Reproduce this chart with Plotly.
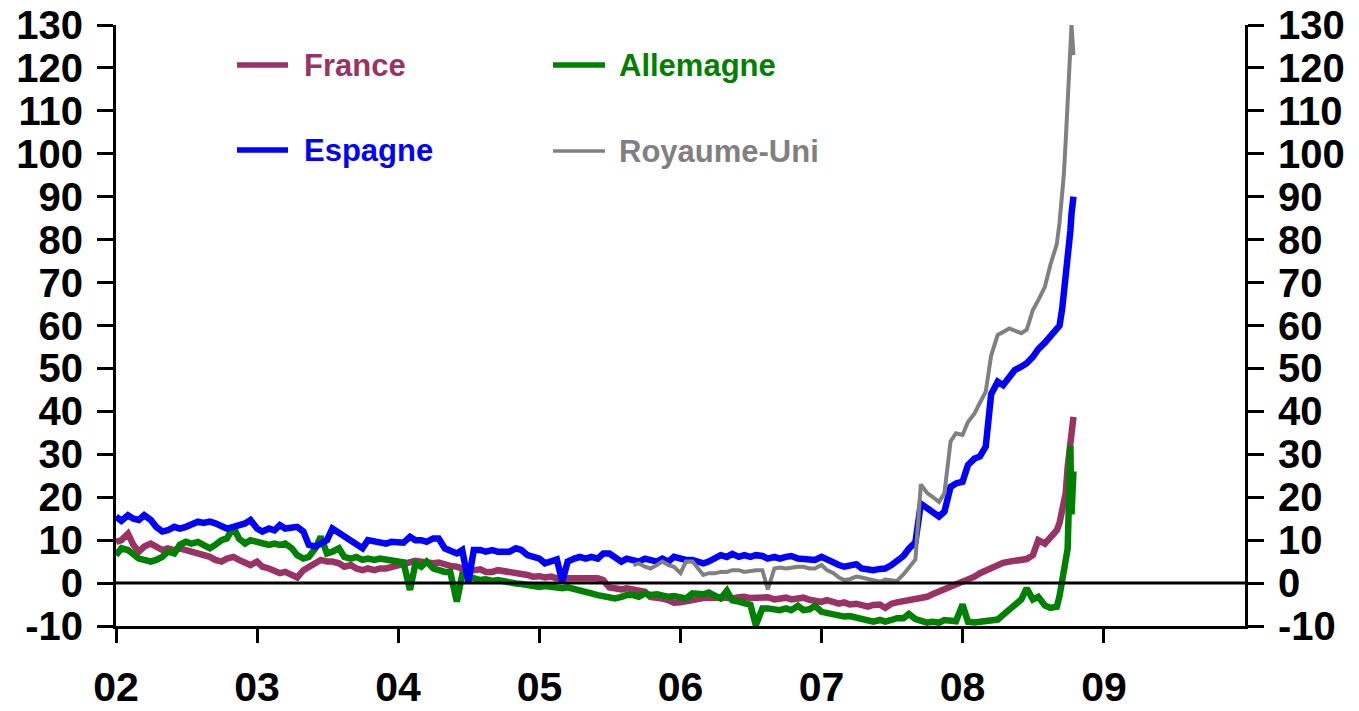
import pandas as pd
import plotly.graph_objects as go

# ---------------- data ----------------
# semi-monthly observations Jan 2002 .. Aug 2008, then denser points for the autumn 2008 surge
base_dates = list(pd.date_range("2002-01-01", "2008-08-15", freq="SMS").strftime("%Y-%m-%d"))
late_dates = ["2008-09-01", "2008-09-08", "2008-09-15", "2008-09-19", "2008-09-24",
              "2008-09-29", "2008-10-02", "2008-10-06", "2008-10-09", "2008-10-14"]
dates = base_dates + late_dates

france = [
    9.6, 10.0, 11.5, 8.9, 7.3, 8.5, 9.2, 8.5, 7.7, 8.1,
    7.7, 8.1, 7.7, 7.3, 6.9, 6.5, 6.1, 5.4, 5.0, 5.7,
    6.1, 5.4, 4.6, 4.2, 5.0, 3.8, 3.4, 3.0, 2.3, 2.6,
    1.9, 1.3, 3.0, 3.8, 5.0, 5.4, 5.0, 5.0, 4.6, 3.8,
    4.2, 3.4, 3.0, 3.4, 3.0, 3.4, 3.4, 3.8, 4.2, 4.6,
    5.0, 5.2, 5.0, 4.8, 4.6, 4.8, 4.2, 4.0, 3.8, 3.4,
    3.0, 3.0, 3.2, 2.6, 2.6, 3.0, 2.8, 2.6, 2.6, 2.3,
    1.9, 1.5, 1.6, 1.3, 1.5, 1.1, 1.3, 1.1, 1.1, 1.3,
    1.1, 1.3, 1.1, 0.7, -1.0, -1.2, -1.5, -1.2, -1.6, -1.6,
    -2.0, -3.2, -3.3, -3.6, -4.0, -4.6, -4.5, -4.2, -3.8, -3.6,
    -3.5, -3.4, -3.2, -3.4, -3.4, -3.6, -3.3, -3.2, -3.5, -3.4,
    -3.6, -3.3, -3.8, -3.5, -3.4, -3.8, -3.6, -3.4, -3.9, -4.2,
    -4.4, -4.0, -4.6, -4.8, -4.5, -5.0, -4.8, -5.2, -5.5, -5.1,
    -5.0, -5.8, -4.8, -4.5, -4.3, -4.0, -3.6, -3.4, -3.2, -2.6,
    -2.0, -1.5, -0.9, -0.3, 0.3, 0.9, 1.5, 2.3, 3.0, 3.6,
    4.2, 4.7, 5.0, 5.2, 5.4, 5.6, 6.5, 10.0, 9.2, 10.8,
    12.3, 14.0, 16.5, 19.0, 21.0, 27.0, 30.0, 34.0, 36.0, 38.7,
]

allemagne = [
    6.5, 8.1, 7.7, 6.9, 5.7, 5.4, 5.0, 5.4, 6.1, 7.3,
    6.9, 8.9, 9.6, 9.2, 9.6, 8.9, 8.1, 8.9, 10.0, 10.4,
    13.0, 10.4, 9.2, 10.0, 9.6, 9.2, 8.9, 9.2, 8.9, 9.2,
    8.1, 6.5, 5.7, 6.1, 8.1, 10.8, 6.9, 7.3, 8.1, 6.1,
    5.7, 6.1, 5.4, 5.7, 5.4, 5.7, 5.4, 5.0, 5.0, 4.8,
    -1.6, 4.6, 3.8, 5.0, 3.4, 3.0, 2.6, 2.6, -4.3, 1.9,
    1.5, 1.1, 0.7, 0.9, 0.5, 0.7, 0.3, 0.3, -0.1, -0.2,
    -0.5, -0.7, -0.9, -0.7, -1.0, -0.9, -1.2, -1.0, -1.5, -1.6,
    -2.0, -2.4, -2.8, -3.0, -3.2, -3.6, -3.2, -2.8, -2.8, -3.2,
    -2.4, -2.8, -2.6, -3.0, -3.2, -3.0, -3.4, -3.6, -2.4, -2.6,
    -2.6, -2.2, -3.2, -3.6, -1.8, -4.0, -4.3, -4.7, -5.1, -9.8,
    -5.9, -5.9, -6.1, -6.3, -5.9, -6.3, -5.3, -6.3, -6.1, -5.3,
    -6.7, -7.0, -7.4, -7.7, -7.8, -7.7, -8.0, -8.2, -8.6, -9.0,
    -8.6, -9.0, -8.6, -8.2, -8.2, -7.2, -8.4, -8.9, -9.2, -9.0,
    -9.2, -8.6, -8.6, -8.9, -5.0, -9.0, -9.2, -9.1, -9.0, -8.8,
    -8.5, -7.4, -6.0, -4.8, -3.8, -1.2, -3.8, -3.2, -5.2, -5.8,
    -5.5, -3.0, 0.5, 2.0, 3.5, 8.0, 18.0, 32.0, 16.0, 26.0,
]

espagne = [
    15.5, 14.5, 15.8, 15.0, 14.7, 15.8, 14.7, 13.1, 12.0, 12.3,
    13.1, 12.7, 13.1, 13.5, 14.3, 14.0, 14.3, 13.9, 13.1, 12.7,
    13.1, 13.5, 13.9, 14.7, 12.7, 12.0, 12.7, 12.3, 13.5, 12.7,
    13.1, 13.1, 12.0, 8.9, 8.5, 9.2, 10.0, 12.7, 11.6, 10.8,
    10.0, 8.9, 8.1, 10.0, 9.6, 9.2, 9.2, 9.6, 9.6, 9.4,
    10.8, 10.0, 10.0, 9.6, 10.4, 10.4, 8.1, 7.7, 6.9, 7.7,
    0.3, 7.7, 7.7, 7.3, 7.7, 7.3, 7.3, 7.3, 8.1, 7.7,
    6.5, 6.1, 5.7, 4.6, 5.0, 5.5, 0.3, 5.0, 5.7, 6.1,
    5.7, 6.1, 5.7, 6.9, 6.9, 6.1, 5.0, 5.7, 5.4, 5.0,
    5.7, 5.4, 5.0, 5.7, 5.0, 6.1, 5.7, 5.4, 5.4, 5.0,
    4.6, 5.0, 5.7, 6.5, 6.1, 6.8, 6.1, 6.5, 6.1, 6.5,
    6.3, 5.7, 6.1, 5.7, 6.1, 6.3, 5.7, 5.7, 5.4, 5.4,
    6.1, 5.4, 4.6, 4.2, 3.8, 4.2, 4.4, 3.4, 3.2, 3.0,
    3.3, 3.4, 4.2, 5.0, 6.3, 8.0, 9.5, 18.5, 17.5, 16.6,
    15.5, 16.6, 22.4, 23.2, 23.6, 27.5, 29.0, 29.5, 31.8, 44.0,
    46.9, 46.1, 48.0, 49.6, 50.4, 51.2, 52.7, 54.5, 56.0, 57.5,
    59.0, 60.0, 64.0, 67.0, 71.0, 75.0, 78.0, 82.0, 86.0, 90.0,
]

# UK series only starts in August 2005 (no data before)
royaume_uni = [None] * 88 + [
    4.2, 4.6,
    3.8, 3.4, 4.2, 5.0, 4.2, 3.8, 2.3, 5.0, 5.0, 3.4,
    1.9, 2.3, 2.3, 2.6, 2.6, 3.0, 3.0, 2.6, 2.9, 3.0,
    3.0, -1.5, 3.4, 3.6, 3.4, 3.6, 3.8, 3.8, 3.4, 3.4,
    4.2, 3.0, 2.3, 1.3, 0.7, 0.9, 1.5, 1.3, 0.9, 0.7,
    0.3, 0.8, 0.7, 0.5, 2.0, 3.5, 5.5, 23.0, 21.0, 20.1,
    18.9, 20.9, 33.0, 34.9, 34.5, 37.5, 39.5, 42.0, 44.6, 53.0,
    57.8, 58.5, 59.3, 58.8, 58.2, 59.0, 63.6, 65.9, 69.0, 74.0,
    79.0, 84.0, 90.0, 95.0, 103.0, 113.0, 120.0, 128.0, 130.0, 123.0,
]

year_ticks = ["2002-01-01", "2003-01-01", "2004-01-01", "2005-01-01",
              "2006-01-01", "2007-01-01", "2008-01-01", "2009-01-01"]
year_labels = ["02", "03", "04", "05", "06", "07", "08", "09"]
y_ticks = [-10, 0, 10, 20, 30, 40, 50, 60, 70, 80, 90, 100, 110, 120, 130]
y_labels = ["-10", "0", "10", "20", "30", "40", "50", "60", "70", "80", "90",
            "100", "110", "120", "130"]

# ---------------- figure ----------------
FIG_W, FIG_H = 1359, 711
M_L, M_R, M_T, M_B = 116, 114, 25, 85
PLOT_W = FIG_W - M_L - M_R
PLOT_H = FIG_H - M_T - M_B

FONT = "Liberation Sans, Arial, sans-serif"
series = [
    ("France", france, "#993366", 6.5, "y"),
    ("Allemagne", allemagne, "#008000", 6.5, "y"),
    ("Espagne", espagne, "#0000FF", 6.5, "y"),
    ("Royaume-Uni", royaume_uni, "#808080", 4.0, "y2"),
]

fig = go.Figure()
for name, vals, col, w, yax in series:
    fig.add_trace(go.Scatter(x=dates, y=vals, name=name, mode="lines",
                             line=dict(color=col, width=w), yaxis=yax,
                             showlegend=False, connectgaps=False,
                             hoverinfo="x+y+name"))

yax_common = dict(range=[-10, 130], tickvals=y_ticks, ticktext=y_labels,
                  showgrid=False, zeroline=False,
                  showline=True, linecolor="black", linewidth=3,
                  ticks="outside", ticklen=16, tickwidth=3, tickcolor="black",
                  tickfont=dict(family=FONT, size=40, color="black", weight="bold"),
                  ticklabelstandoff=6, ticklabeloverflow="allow",
                  automargin=False, fixedrange=True)

fig.update_layout(
    width=FIG_W, height=FIG_H,
    paper_bgcolor="white", plot_bgcolor="white",
    margin=dict(l=M_L, r=M_R, t=M_T, b=M_B, pad=0),
    xaxis=dict(type="date", range=["2002-01-01", "2010-01-01"],
               tickvals=year_ticks, ticktext=year_labels,
               showgrid=False, zeroline=False, showline=True,
               linecolor="black", linewidth=3,
               ticks="outside", ticklen=14, tickwidth=3, tickcolor="black",
               tickfont=dict(family=FONT, size=41, color="black", weight="bold"),
               ticklabelstandoff=9, ticklabeloverflow="allow", automargin=False),
    yaxis=dict(**yax_common, side="left"),
    yaxis2=dict(**yax_common, side="right", overlaying="y", anchor="x"),
)

# zero line on top of the data
fig.add_shape(type="line", xref="paper", x0=0, x1=1, yref="y", y0=0, y1=0,
              line=dict(color="black", width=3), layer="above")

# legend drawn as in the original (2 x 2 block); positions given in page pixels
def px_x(p):
    return (p - M_L) / PLOT_W

def px_y(p):
    return (M_T + PLOT_H - p) / PLOT_H

legend_items = [
    ("France", "#993366", 5.5, 237, 288, 305, 65),
    ("Allemagne", "#008000", 5.5, 553, 605, 620, 65),
    ("Espagne", "#0000FF", 5.5, 237, 288, 305, 150),
    ("Royaume-Uni", "#808080", 3.5, 553, 605, 620, 151),
]
for label, col, w, lx0, lx1, tx, ty in legend_items:
    fig.add_shape(type="line", xref="paper", yref="paper",
                  x0=px_x(lx0), x1=px_x(lx1), y0=px_y(ty), y1=px_y(ty),
                  line=dict(color=col, width=w))
    fig.add_annotation(xref="paper", yref="paper", x=px_x(tx - 3), y=px_y(ty),
                       xanchor="left", yanchor="middle", showarrow=False,
                       text=label, font=dict(family=FONT, size=31, color=col, weight="bold"))

# remove the default page margin so the figure fills the window exactly
fig.write_html("out.html",
               config={"displayModeBar": False},
               post_script="document.body.style.margin='0px';document.body.style.overflow='hidden';")
